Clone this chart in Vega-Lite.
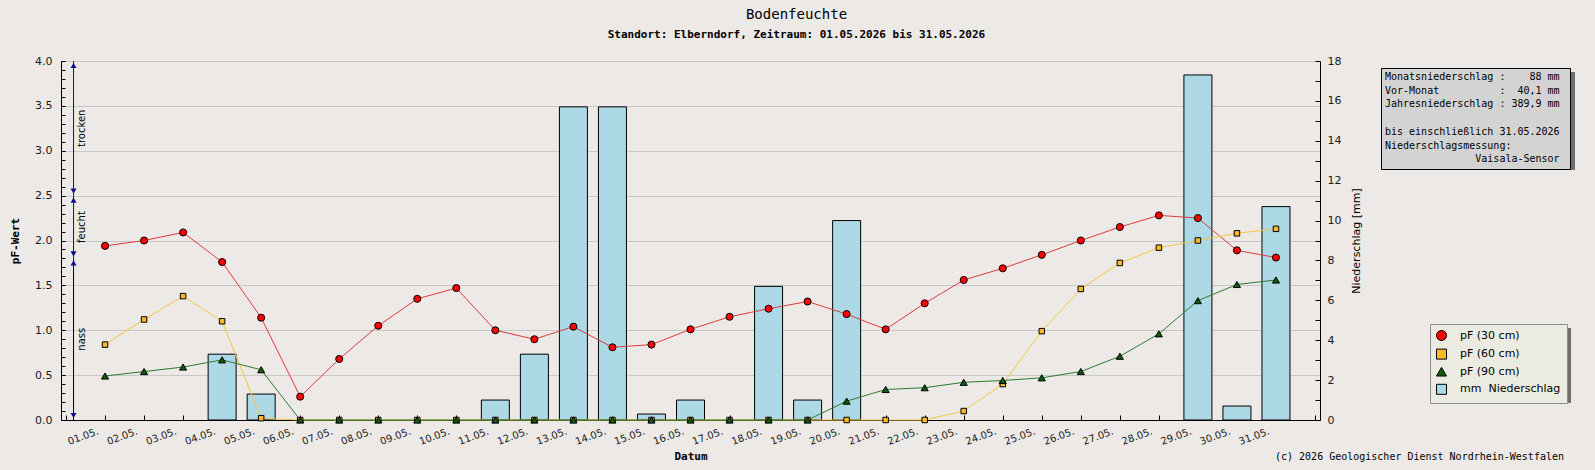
{
  "$schema": "https://vega.github.io/schema/vega-lite/v6.json",
  "width": 1259,
  "height": 359,
  "autosize": {"type": "none"},
  "padding": {"left": 61, "top": 61, "right": 275, "bottom": 50},
  "background": "#ece9e7",
  "title": {
    "text": "Bodenfeuchte",
    "subtitle": "Standort: Elberndorf, Zeitraum: 01.05.2026 bis 31.05.2026",
    "font": "DejaVu Sans Mono",
    "fontSize": 14,
    "fontWeight": "normal",
    "color": "black",
    "subtitleFont": "DejaVu Sans Mono",
    "subtitleFontSize": 11,
    "subtitleFontWeight": "bold",
    "subtitleColor": "black",
    "subtitlePadding": 7,
    "anchor": "middle",
    "frame": "group",
    "dx": 106,
    "offset": 15
  },
  "datasets": {
    "tage": [
      {"datum": "2026-05-01", "pf30": 1.94, "pf60": 0.84, "pf90": 0.49, "mm": 0},
      {"datum": "2026-05-02", "pf30": 2.00, "pf60": 1.12, "pf90": 0.54, "mm": 0},
      {"datum": "2026-05-03", "pf30": 2.09, "pf60": 1.38, "pf90": 0.59, "mm": 0},
      {"datum": "2026-05-04", "pf30": 1.76, "pf60": 1.10, "pf90": 0.67, "mm": 3.3},
      {"datum": "2026-05-05", "pf30": 1.14, "pf60": 0.02, "pf90": 0.56, "mm": 1.3},
      {"datum": "2026-05-06", "pf30": 0.26, "pf60": 0, "pf90": 0, "mm": 0},
      {"datum": "2026-05-07", "pf30": 0.68, "pf60": 0, "pf90": 0, "mm": 0},
      {"datum": "2026-05-08", "pf30": 1.05, "pf60": 0, "pf90": 0, "mm": 0},
      {"datum": "2026-05-09", "pf30": 1.35, "pf60": 0, "pf90": 0, "mm": 0},
      {"datum": "2026-05-10", "pf30": 1.47, "pf60": 0, "pf90": 0, "mm": 0},
      {"datum": "2026-05-11", "pf30": 1.00, "pf60": 0, "pf90": 0, "mm": 1.0},
      {"datum": "2026-05-12", "pf30": 0.90, "pf60": 0, "pf90": 0, "mm": 3.3},
      {"datum": "2026-05-13", "pf30": 1.04, "pf60": 0, "pf90": 0, "mm": 15.7},
      {"datum": "2026-05-14", "pf30": 0.81, "pf60": 0, "pf90": 0, "mm": 15.7},
      {"datum": "2026-05-15", "pf30": 0.84, "pf60": 0, "pf90": 0, "mm": 0.3},
      {"datum": "2026-05-16", "pf30": 1.01, "pf60": 0, "pf90": 0, "mm": 1.0},
      {"datum": "2026-05-17", "pf30": 1.15, "pf60": 0, "pf90": 0, "mm": 0},
      {"datum": "2026-05-18", "pf30": 1.24, "pf60": 0, "pf90": 0, "mm": 6.7},
      {"datum": "2026-05-19", "pf30": 1.32, "pf60": 0, "pf90": 0, "mm": 1.0},
      {"datum": "2026-05-20", "pf30": 1.18, "pf60": 0, "pf90": 0.21, "mm": 10.0},
      {"datum": "2026-05-21", "pf30": 1.01, "pf60": 0, "pf90": 0.34, "mm": 0},
      {"datum": "2026-05-22", "pf30": 1.30, "pf60": 0, "pf90": 0.36, "mm": 0},
      {"datum": "2026-05-23", "pf30": 1.56, "pf60": 0.10, "pf90": 0.42, "mm": 0},
      {"datum": "2026-05-24", "pf30": 1.69, "pf60": 0.40, "pf90": 0.44, "mm": 0},
      {"datum": "2026-05-25", "pf30": 1.84, "pf60": 0.99, "pf90": 0.47, "mm": 0},
      {"datum": "2026-05-26", "pf30": 2.00, "pf60": 1.46, "pf90": 0.54, "mm": 0},
      {"datum": "2026-05-27", "pf30": 2.15, "pf60": 1.75, "pf90": 0.71, "mm": 0},
      {"datum": "2026-05-28", "pf30": 2.28, "pf60": 1.92, "pf90": 0.96, "mm": 0},
      {"datum": "2026-05-29", "pf30": 2.25, "pf60": 2.00, "pf90": 1.33, "mm": 17.3},
      {"datum": "2026-05-30", "pf30": 1.89, "pf60": 2.08, "pf90": 1.51, "mm": 0.7},
      {"datum": "2026-05-31", "pf30": 1.81, "pf60": 2.13, "pf90": 1.56, "mm": 10.7}
    ],
    "zonen": [
      {"zone": "trocken", "von": 2.5, "bis": 4.0},
      {"zone": "feucht", "von": 1.8, "bis": 2.5},
      {"zone": "nass", "von": 0, "bis": 1.8}
    ],
    "info": [
      {"zeile": "Monatsniederschlag :    88 mm "},
      {"zeile": "Vor-Monat          :  40,1 mm "},
      {"zeile": "Jahresniederschlag : 389,9 mm "},
      {"zeile": " "},
      {"zeile": "bis einschließlich 31.05.2026 "},
      {"zeile": "Niederschlagsmessung:"},
      {"zeile": "               Vaisala-Sensor "}
    ],
    "fusszeile": [
      {"text": "(c) 2026 Geologischer Dienst Nordrhein-Westfalen"}
    ]
  },
  "layer": [
    {
      "data": {"name": "tage"},
      "transform": [{"filter": "datum.mm > 0"}],
      "mark": {"type": "bar", "width": 28, "stroke": "black", "strokeWidth": 1},
      "encoding": {
        "x": {
          "field": "datum",
          "type": "temporal",
          "scale": {
            "type": "utc",
            "domain": [
              {"year": 2026, "month": 4, "date": 30, "utc": true},
              {"year": 2026, "month": 6, "date": 1, "utc": true}
            ]
          },
          "axis": {
            "title": "Datum",
            "titleFont": "DejaVu Sans Mono",
            "titleFontSize": 11,
            "titleFontWeight": "bold",
            "titlePadding": 4,
            "tickCount": {"interval": "day", "step": 1},
            "labelExpr": "utcmonth(datum.value) == 4 ? utcFormat(datum.value, '%d.%m.') : ''",
            "labelFontSize": 10,
            "labelAngle": -20,
            "labelAlign": "right",
            "labelBaseline": "top",
            "labelOverlap": false,
            "labelFlush": false,
            "labelPadding": 11,
            "labelOffset": -9,
            "tickSize": -5,
            "grid": false
          }
        },
        "y": {
          "field": "mm",
          "type": "quantitative",
          "scale": {"domain": [0, 18], "nice": false},
          "axis": {
            "orient": "right",
            "title": "Niederschlag [mm]",
            "titleFont": "DejaVu Sans",
            "titleFontSize": 11,
            "titleFontWeight": "normal",
            "titleAngle": 270,
            "titlePadding": 21,
            "values": [0, 1, 2, 3, 4, 5, 6, 7, 8, 9, 10, 11, 12, 13, 14, 15, 16, 17, 18],
            "labelExpr": "datum.value % 2 == 0 ? datum.label : ''",
            "labelOverlap": false,
            "tickSize": -5,
            "labelPadding": 12,
            "grid": false
          }
        },
        "color": {
          "datum": "mm",
          "type": "nominal",
          "scale": {
            "domain": ["pf30", "pf60", "pf90", "mm"],
            "range": ["#ff0000", "#fdb72a", "#0b5d0b", "#add8e6"]
          },
          "legend": {
            "title": null,
            "orient": "none",
            "legendX": 1369,
            "legendY": 263,
            "zindex": 2,
            "fillColor": "#ecebe1",
            "strokeColor": "#8c8c8c",
            "padding": 6,
            "symbolSize": 100,
            "symbolStrokeColor": "black",
            "symbolStrokeWidth": 1,
            "labelFont": "DejaVu Sans",
            "labelFontSize": 11,
            "labelColor": "black",
            "labelOffset": 13,
            "rowPadding": 3.6,
            "labelLimit": 0,
            "labelExpr": "datum.label == 'pf30' ? 'pF (30 cm)' : datum.label == 'pf60' ? 'pF (60 cm)' : datum.label == 'pf90' ? 'pF (90 cm)' : 'mm\u00a0\u00a0Niederschlag'"
          }
        }
      }
    },
    {
      "layer": [
        {
          "data": {"name": "tage"},
          "transform": [{"fold": ["pf30", "pf60", "pf90"], "as": ["tiefe", "pF"]}],
          "mark": {"type": "line", "strokeWidth": 1},
          "encoding": {
            "x": {"field": "datum", "type": "temporal", "scale": {"type": "utc"}},
            "y": {
              "field": "pF",
              "type": "quantitative",
              "scale": {"domain": [0, 4], "nice": false},
              "axis": {
                "orient": "left",
                "title": "pF-Wert",
                "titleFont": "DejaVu Sans Mono",
                "titleFontSize": 11,
                "titleFontWeight": "bold",
                "titlePadding": 14,
                "values": [0, 0.5, 1, 1.5, 2, 2.5, 3, 3.5, 4],
                "format": ".1f",
                "labelOverlap": false,
                "labelFlush": false,
                "grid": true,
                "gridColor": "#c8c8c8",
                "tickSize": -4,
                "labelPadding": 13
              }
            },
            "stroke": {
              "field": "tiefe",
              "type": "nominal",
              "scale": {"domain": ["pf30", "pf60", "pf90"], "range": ["#e03a3a", "#f3c63e", "#2f7a2f"]},
              "legend": null
            }
          }
        },
        {
          "data": {"name": "tage"},
          "transform": [{"fold": ["pf30", "pf60", "pf90"], "as": ["tiefe", "pF"]}],
          "mark": {"type": "point", "filled": true, "stroke": "black", "strokeWidth": 1, "opacity": 1},
          "encoding": {
            "x": {"field": "datum", "type": "temporal", "scale": {"type": "utc"}},
            "y": {"field": "pF", "type": "quantitative", "axis": null},
            "color": {"field": "tiefe", "type": "nominal"},
            "shape": {
              "field": "tiefe",
              "type": "nominal",
              "scale": {
                "domain": ["pf30", "pf60", "pf90", "mm"],
                "range": ["circle", "square", "triangle-up", "square"]
              },
              "legend": {"title": null}
            },
            "size": {"condition": {"test": "datum.tiefe == 'pf60'", "value": 30}, "value": 50}
          }
        },
        {
          "data": {"name": "zonen"},
          "mark": {"type": "rule", "strokeWidth": 1},
          "encoding": {
            "x": {"datum": {"year": 2026, "month": 4, "date": 30, "hours": 4, "minutes": 38, "utc": true}, "type": "temporal", "scale": {"type": "utc"}},
            "y": {
              "field": "von",
              "type": "quantitative",
              "axis": {
                "orient": "left",
                "title": null,
                "values": [0, 0.1, 0.2, 0.3, 0.4, 0.5, 0.6, 0.7, 0.8, 0.9, 1, 1.1, 1.2, 1.3, 1.4, 1.5, 1.6, 1.7, 1.8, 1.9, 2, 2.1, 2.2, 2.3, 2.4, 2.5, 2.6, 2.7, 2.8, 2.9, 3, 3.1, 3.2, 3.3, 3.4, 3.5, 3.6, 3.7, 3.8, 3.9, 4],
                "labels": false,
                "grid": false,
                "domain": false,
                "tickSize": -4
              }
            },
            "y2": {"field": "bis"},
            "color": {"condition": {"test": "datum.zone == 'nass'", "value": "black"}, "value": "#10108a"}
          }
        },
        {
          "data": {"name": "zonen"},
          "mark": {"type": "point", "shape": "triangle-up", "filled": true, "size": 36, "color": "#10108a", "yOffset": 4.5, "opacity": 1},
          "encoding": {
            "x": {"datum": {"year": 2026, "month": 4, "date": 30, "hours": 4, "minutes": 38, "utc": true}, "type": "temporal", "scale": {"type": "utc"}},
            "y": {"field": "bis", "type": "quantitative", "axis": null}
          }
        },
        {
          "data": {"name": "zonen"},
          "mark": {"type": "point", "shape": "triangle-down", "filled": true, "size": 36, "color": "#10108a", "yOffset": -4.5, "opacity": 1},
          "encoding": {
            "x": {"datum": {"year": 2026, "month": 4, "date": 30, "hours": 4, "minutes": 38, "utc": true}, "type": "temporal", "scale": {"type": "utc"}},
            "y": {"field": "von", "type": "quantitative", "axis": null}
          }
        },
        {
          "data": {"name": "zonen"},
          "transform": [{"calculate": "(datum.von + datum.bis) / 2", "as": "mitte"}],
          "mark": {"type": "text", "angle": 270, "align": "center", "baseline": "top", "font": "DejaVu Sans", "fontSize": 10, "color": "black", "xOffset": 3.5},
          "encoding": {
            "x": {"datum": {"year": 2026, "month": 4, "date": 30, "hours": 4, "minutes": 38, "utc": true}, "type": "temporal", "scale": {"type": "utc"}},
            "y": {"field": "mitte", "type": "quantitative", "axis": null},
            "text": {"field": "zone"}
          }
        },
        {
          "data": {"name": "info"},
          "mark": {"type": "point", "opacity": 0},
          "encoding": {
            "strokeDash": {
              "field": "zeile",
              "type": "nominal",
              "sort": null,
              "legend": {
                "title": null,
                "orient": "none",
                "legendX": 1320,
                "legendY": 7,
                "zindex": 2,
                "fillColor": "#d3d3d3",
                "strokeColor": "black",
                "padding": 4,
                "symbolSize": 0,
                "symbolOpacity": 0,
                "symbolStrokeWidth": 0,
                "labelOffset": -10,
                "rowPadding": 3.7,
                "labelLimit": 0,
                "labelFont": "DejaVu Sans Mono",
                "labelFontSize": 10,
                "labelColor": "black",
                "labelExpr": "'\u200b' + replace(datum.label, regexp(' ', 'g'), '\u00a0') + '\u200b'"
              }
            },
            "fill": {
              "datum": 1,
              "type": "quantitative",
              "scale": {"domain": [0, 1], "range": ["#6e6e6e", "#6e6e6e"]},
              "legend": {
                "type": "gradient",
                "direction": "vertical",
                "title": null,
                "orient": "none",
                "legendX": 1324,
                "legendY": 11,
                "zindex": 1,
                "padding": 0,
                "gradientLength": 98,
                "gradientThickness": 190,
                "gradientStrokeWidth": 0,
                "labelExpr": "''"
              }
            }
          }
        },
        {
          "data": {"name": "fusszeile"},
          "mark": {"type": "point", "opacity": 0},
          "encoding": {
            "strokeWidth": {
              "field": "text",
              "type": "ordinal",
              "legend": {
                "title": null,
                "orient": "none",
                "legendX": 1211,
                "legendY": 391,
                "padding": 0,
                "symbolSize": 0,
                "symbolOpacity": 0,
                "labelOffset": -7,
                "labelLimit": 0,
                "labelFont": "DejaVu Sans Mono",
                "labelFontSize": 10,
                "labelColor": "black"
              }
            },
            "fill": {
              "datum": 1,
              "type": "quantitative",
              "scale": {"domain": [0, 2], "range": ["#6e6e6e", "#6e6e6e"]},
              "legend": {
                "type": "gradient",
                "direction": "vertical",
                "title": null,
                "orient": "none",
                "legendX": 1373,
                "legendY": 267,
                "zindex": 1,
                "padding": 0,
                "gradientLength": 75,
                "gradientThickness": 137,
                "gradientStrokeWidth": 0,
                "labelExpr": "''"
              }
            }
          }
        }
      ],
      "resolve": {
        "axis": {"y": "independent"},
        "scale": {"fill": "independent"},
        "legend": {"fill": "independent"}
      }
    }
  ],
  "resolve": {"scale": {"y": "independent"}, "axis": {"y": "independent"}},
  "config": {
    "view": {"stroke": null, "fill": "white"},
    "axis": {
      "domainColor": "black",
      "tickColor": "black",
      "labelFont": "DejaVu Sans",
      "labelFontSize": 11,
      "labelColor": "#1a1a1a",
      "titleColor": "black"
    }
  }
}
